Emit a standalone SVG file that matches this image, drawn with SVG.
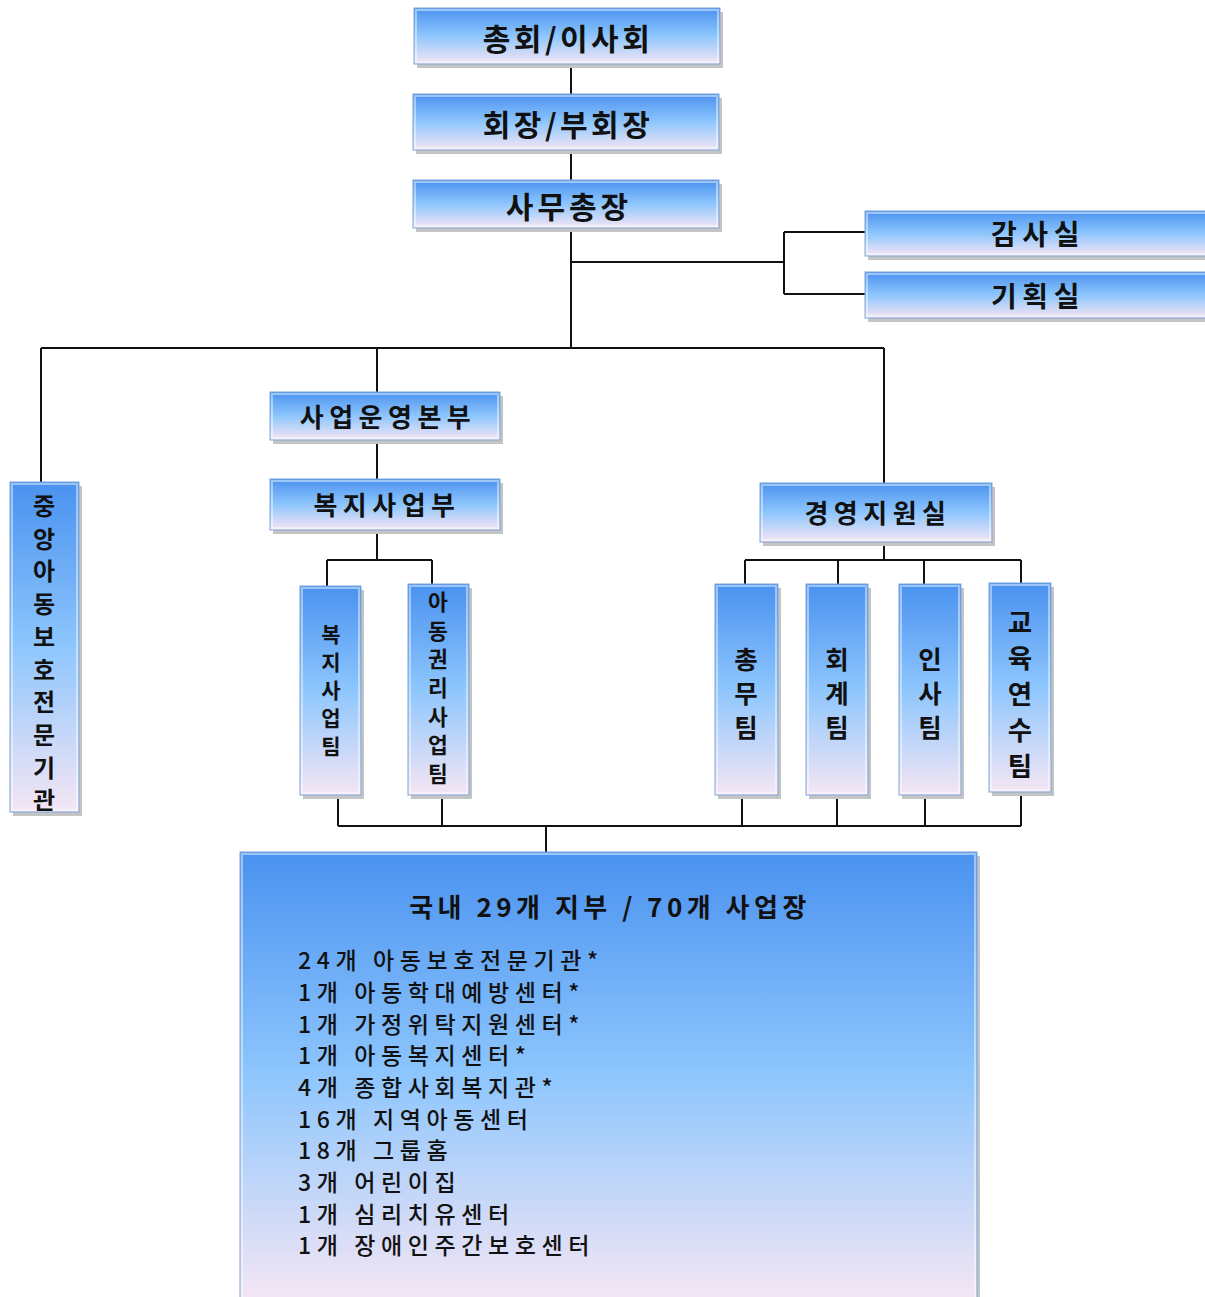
<svg xmlns="http://www.w3.org/2000/svg" width="1205" height="1297" viewBox="0 0 1205 1297">
<defs>
<linearGradient id="g" x1="0" y1="0" x2="0" y2="1">
<stop offset="0" stop-color="#4a92f0"/>
<stop offset="0.5" stop-color="#8ec6fd"/>
<stop offset="1" stop-color="#f5e6f4"/>
</linearGradient>
<style>
.box{fill:url(#g);stroke:#7fa8d8;stroke-width:1}
.bev{fill:none;stroke:#ffffff;stroke-opacity:0.45;stroke-width:2}
.sh{fill:#c4c4c4}
.t{font-family:"Noto Sans CJK KR","Noto Sans",sans-serif;font-weight:bold;fill:#111;text-anchor:middle;dominant-baseline:central}
.l{font-family:"Noto Sans CJK KR","Noto Sans",sans-serif;font-weight:500;fill:#111;font-size:23px;letter-spacing:5.6px}
.c{fill:none;stroke:#111;stroke-width:2}
</style>
</defs>
<g id="connectors">
<path class="c" d="M571 64V94M571 150V180M571 228V348M571 262H784M784 232V294M784 232H865M784 294H865"/>
<path class="c" d="M41 348H884M41 348V482M377 348V392M884 348V485"/>
<path class="c" d="M377 440V479M377 530V560M327 560H432M327 560V586M432 560V586"/>
<path class="c" d="M884 542V560M745 560H1021M745 560V585M838 560V585M924 560V585M1021 560V584"/>
<path class="c" d="M338 795V826M442 795V826M742 795V826M837 795V826M925 795V826M1021 792V826M338 826H1021M546 826V852"/>
</g>
<g id="n1"><rect class="sh" x="417" y="12" width="306" height="56"/><rect class="box" x="414" y="8" width="306" height="56"/><rect class="bev" x="416" y="10" width="302" height="52"/><text class="t" x="568" y="37" font-size="30" letter-spacing="3.5">총회/이사회</text></g>
<g id="n2"><rect class="sh" x="416" y="98" width="306" height="56"/><rect class="box" x="413" y="94" width="306" height="56"/><rect class="bev" x="415" y="96" width="302" height="52"/><text class="t" x="568" y="123" font-size="30" letter-spacing="3.5">회장/부회장</text></g>
<g id="n3"><rect class="sh" x="416" y="184" width="306" height="48"/><rect class="box" x="413" y="180" width="306" height="48"/><rect class="bev" x="415" y="182" width="302" height="44"/><text class="t" x="569" y="205" font-size="30" letter-spacing="4">사무총장</text></g>
<g id="n4"><rect class="sh" x="868" y="215" width="340" height="45"/><rect class="box" x="865" y="211" width="342" height="45"/><rect class="bev" x="867" y="213" width="340" height="41"/><text class="t" x="1038" y="233" font-size="28" letter-spacing="5.5">감사실</text></g>
<g id="n5"><rect class="sh" x="868" y="276" width="340" height="46"/><rect class="box" x="865" y="272" width="342" height="46"/><rect class="bev" x="867" y="274" width="340" height="42"/><text class="t" x="1038" y="295" font-size="28" letter-spacing="5.5">기획실</text></g>
<g id="n6"><rect class="sh" x="13" y="486" width="69" height="330"/><rect class="box" x="10" y="482" width="69" height="330"/><rect class="bev" x="12" y="484" width="65" height="326"/>
<text class="t" font-size="24"><tspan x="44" y="504">중</tspan><tspan x="44" y="537">앙</tspan><tspan x="44" y="569">아</tspan><tspan x="44" y="602">동</tspan><tspan x="44" y="635">보</tspan><tspan x="44" y="668">호</tspan><tspan x="44" y="700">전</tspan><tspan x="44" y="733">문</tspan><tspan x="44" y="766">기</tspan><tspan x="44" y="798">관</tspan></text></g>
<g id="n7"><rect class="sh" x="273" y="396" width="230" height="48"/><rect class="box" x="270" y="392" width="230" height="48"/><rect class="bev" x="272" y="394" width="226" height="44"/><text class="t" x="388" y="415" font-size="26" letter-spacing="5.5">사업운영본부</text></g>
<g id="n8"><rect class="sh" x="273" y="483" width="230" height="51"/><rect class="box" x="270" y="479" width="230" height="51"/><rect class="bev" x="272" y="481" width="226" height="47"/><text class="t" x="387" y="503" font-size="26" letter-spacing="5.5">복지사업부</text></g>
<g id="n9"><rect class="sh" x="303" y="590" width="61" height="209"/><rect class="box" x="300" y="586" width="61" height="209"/><rect class="bev" x="302" y="588" width="57" height="205"/>
<text class="t" font-size="21"><tspan x="331" y="633">복</tspan><tspan x="331" y="661">지</tspan><tspan x="331" y="689">사</tspan><tspan x="331" y="717">업</tspan><tspan x="331" y="745">팀</tspan></text></g>
<g id="n10"><rect class="sh" x="411" y="588" width="61" height="211"/><rect class="box" x="408" y="584" width="61" height="211"/><rect class="bev" x="410" y="586" width="57" height="207"/>
<text class="t" font-size="21.5"><tspan x="438" y="600">아</tspan><tspan x="438" y="629">동</tspan><tspan x="438" y="657">권</tspan><tspan x="438" y="686">리</tspan><tspan x="438" y="715">사</tspan><tspan x="438" y="743">업</tspan><tspan x="438" y="772">팀</tspan></text></g>
<g id="n11"><rect class="sh" x="763" y="487" width="232" height="59"/><rect class="box" x="760" y="483" width="232" height="59"/><rect class="bev" x="762" y="485" width="228" height="55"/><text class="t" x="878" y="511" font-size="26" letter-spacing="5.5">경영지원실</text></g>
<g id="n12"><rect class="sh" x="718" y="588" width="63" height="211"/><rect class="box" x="715" y="584" width="63" height="211"/><rect class="bev" x="717" y="586" width="59" height="207"/>
<text class="t" font-size="25.5"><tspan x="746" y="657">총</tspan><tspan x="746" y="691">무</tspan><tspan x="746" y="725">팀</tspan></text></g>
<g id="n13"><rect class="sh" x="809" y="588" width="62" height="211"/><rect class="box" x="806" y="584" width="62" height="211"/><rect class="bev" x="808" y="586" width="58" height="207"/>
<text class="t" font-size="25.5"><tspan x="837" y="657">회</tspan><tspan x="837" y="691">계</tspan><tspan x="837" y="725">팀</tspan></text></g>
<g id="n14"><rect class="sh" x="902" y="588" width="62" height="211"/><rect class="box" x="899" y="584" width="62" height="211"/><rect class="bev" x="901" y="586" width="58" height="207"/>
<text class="t" font-size="25.5"><tspan x="930" y="657">인</tspan><tspan x="930" y="691">사</tspan><tspan x="930" y="725">팀</tspan></text></g>
<g id="n15"><rect class="sh" x="992" y="587" width="62" height="209"/><rect class="box" x="989" y="583" width="62" height="209"/><rect class="bev" x="991" y="585" width="58" height="205"/>
<text class="t" font-size="26.5"><tspan x="1020" y="620">교</tspan><tspan x="1020" y="656">육</tspan><tspan x="1020" y="692">연</tspan><tspan x="1020" y="728">수</tspan><tspan x="1020" y="764">팀</tspan></text></g>
<g id="n16"><rect class="sh" x="243" y="856" width="737" height="445"/><rect class="box" x="240" y="852" width="737" height="449"/><rect class="bev" x="242" y="854" width="733" height="445"/>
<text class="t" x="610" y="905" font-size="26" font-weight="500" letter-spacing="4.5">국내 29개 지부 / 70개 사업장</text>
<text class="l"><tspan x="298" y="969">24개 아동보호전문기관*</tspan><tspan x="298" y="1001">1개 아동학대예방센터*</tspan><tspan x="298" y="1033">1개 가정위탁지원센터*</tspan><tspan x="298" y="1064">1개 아동복지센터*</tspan><tspan x="298" y="1096">4개 종합사회복지관*</tspan><tspan x="298" y="1128">16개 지역아동센터</tspan><tspan x="298" y="1159">18개 그룹홈</tspan><tspan x="298" y="1191">3개 어린이집</tspan><tspan x="298" y="1223">1개 심리치유센터</tspan><tspan x="298" y="1254">1개 장애인주간보호센터</tspan></text>
</g>
</svg>
